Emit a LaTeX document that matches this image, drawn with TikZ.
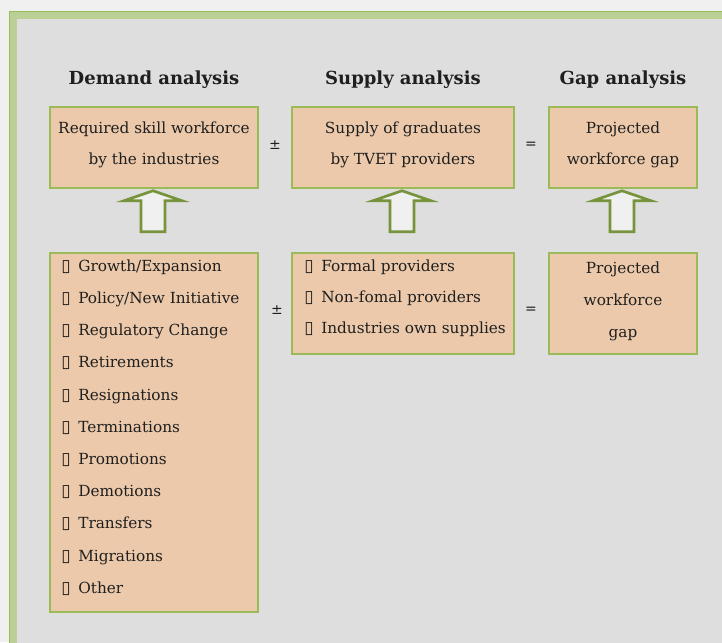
\documentclass[tikz,border=0pt]{standalone}
\usepackage{fontspec}
\setmainfont{DejaVu Serif}
\newfontfamily\symfont{DejaVu Sans}
\usetikzlibrary{calc,positioning}

\definecolor{pagegray}{RGB}{240,240,240}
\definecolor{panelgray}{RGB}{222,222,222}
\definecolor{framelight}{RGB}{186,208,148}
\definecolor{boxgreen}{RGB}{155,187,89}
\definecolor{arrowgreen}{RGB}{119,147,60}
\definecolor{peach}{RGB}{236,201,170}

\newcommand{\bx}{{\symfont\fontsize{17}{17}\selectfont\char"25AF}\hspace{7.5pt}}

\begin{document}
\begin{tikzpicture}[x=1pt, y=-1pt,
    every node/.style={text=black!88},
    box/.style={draw=boxgreen, line width=1.5pt, fill=peach, inner sep=0pt},
    boxtext/.style={align=center, inner sep=0pt, font=\fontsize{15.3}{31}\selectfont},
    listtext/.style={align=left, inner sep=0pt, font=\fontsize{15.3}{32.2}\selectfont},
    title/.style={font=\fontsize{18}{20}\selectfont\bfseries},
    sign/.style={font=\symfont\fontsize{14}{15}\selectfont},
    uparrow/.style={draw=arrowgreen, line width=2.7pt, fill=pagegray}]
    % Background and frame
    \fill[pagegray] (0,0) rectangle (722,642);
    \clip (0,0) rectangle (722,642);
    \draw[framelight, line width=7pt, fill=panelgray] (13,15.5) rectangle (740,646);
    \draw[boxgreen, line width=1pt] (9.5,12) rectangle (745,650);
    % Top row
    \node[box, minimum width=208, minimum height=81] (reqbox) at (154,147.5) {};
    \node[box, minimum width=222, minimum height=81] (supbox) at (403,147.5) {};
    \node[box, minimum width=148, minimum height=81] (gapbox) at (623,147.5) {};
    \node[boxtext] (reqtxt) at ([yshift=3pt]reqbox.center) {Required skill workforce\\by the industries};
    \node[boxtext] (suptxt) at ([yshift=3pt]supbox.center) {Supply of graduates\\by TVET providers};
    \node[boxtext] (gaptxt) at ([yshift=3pt]gapbox.center) {Projected\\workforce gap};
    % Titles
    \node[title] (demtitle) at (reqbox.north |- 0,80) {Demand analysis};
    \node[title] (suptitle) at (supbox.north |- 0,80) {Supply analysis};
    \node[title] (gaptitle) at (gapbox.north |- 0,80) {Gap analysis};
    % Bottom row
    \node[box, minimum width=208, minimum height=359] (demlist) at (154,432.5) {};
    \node[box, minimum width=222, minimum height=101] (suplist) at (403,303.5) {};
    \node[box, minimum width=148, minimum height=101] (gaplist) at (623,303.5) {};
    \node[listtext, anchor=west] (demitems) at ([xshift=12pt, yshift=5pt]demlist.west) {\bx Growth/Expansion\\\bx Policy/New Initiative\\\bx Regulatory Change\\\bx Retirements\\\bx Resignations\\\bx Terminations\\\bx Promotions\\\bx Demotions\\\bx Transfers\\\bx Migrations\\\bx Other};
    \node[listtext, anchor=west, font=\fontsize{15.3}{31}\selectfont] (supitems) at ([xshift=13pt, yshift=5pt]suplist.west) {\bx Formal providers\\\bx Non-fomal providers\\\bx Industries own supplies};
    \node[boxtext, font=\fontsize{15.3}{32}\selectfont] (gapitems) at ([yshift=2.5pt]gaplist.center) {Projected\\workforce\\gap};
    % Signs
    \node[sign] (pm1) at (275,145) {±};
    \node[sign] (eq1) at (531,145) {=};
    \node[sign] (pm2) at (277,310) {±};
    \node[sign] (eq2) at (531,310) {=};
    % Block arrows
    \foreach \upper in {reqbox, supbox, gapbox} {
        \draw[uparrow] ($(\upper.south)+(-1,2)$) -- ++(29,10) -- ++(-17,0) -- ++(0,31)
            -- ++(-24,0) -- ++(0,-31) -- ++(-17,0) -- cycle;
    }
\end{tikzpicture}
\end{document}
